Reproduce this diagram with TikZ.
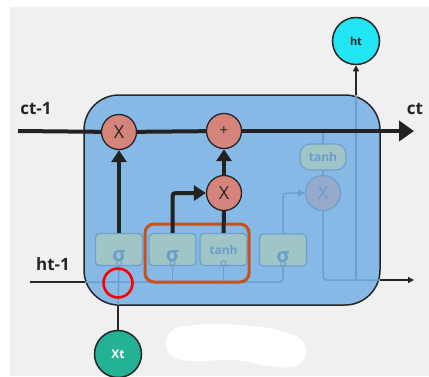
\documentclass[tikz,border=0pt]{standalone}
\usepackage{fontspec}
\setmainfont{Open Sans}
\usetikzlibrary{arrows.meta}
\definecolor{bggray}{HTML}{F0F0F0}
\definecolor{cellblue}{HTML}{86B9E5}
\definecolor{dark}{HTML}{262626}
\definecolor{fadeline}{HTML}{6E9FCB}
\definecolor{gatefill}{HTML}{A0C5C6}
\definecolor{gatetext}{HTML}{6B9DCC}
\definecolor{opfill}{HTML}{D5847B}
\definecolor{opfade}{HTML}{96AACC}
\definecolor{orangebox}{HTML}{C7521C}
\definecolor{htcyan}{HTML}{22E6F5}
\definecolor{xtteal}{HTML}{23B295}
\tikzset{
  cellbox/.style={draw=dark, fill=cellblue, line width=1.5pt, rounded corners=35pt, minimum width=296pt, minimum height=210pt, inner sep=0pt},
  gate/.style={draw=fadeline, fill=gatefill, line width=1.2pt, rounded corners=4pt, minimum width=47pt, minimum height=32pt, inner sep=0pt, text=gatetext, font=\bfseries},
  op/.style={circle, draw=dark, fill=opfill, line width=1.3pt, minimum size=35pt, inner sep=0pt, text=dark, font=\fontsize{18}{18}\selectfont},
  opfaded/.style={circle, draw=fadeline, fill=opfade, line width=1.2pt, minimum size=35pt, inner sep=0pt, text=gatetext, font=\fontsize{18}{18}\selectfont},
  fadeln/.style={draw=fadeline, line width=1.5pt},
  thinln/.style={draw=dark, line width=1.5pt},
  thk/.style={draw=dark!90!black, line width=4pt},
  bigtip/.style={-{Triangle[length=12pt,width=15pt]}},
  smalltip/.style={-{Triangle[length=6pt,width=6pt]}},
  lbl/.style={font=\bfseries\fontsize{17}{17}\selectfont, text=dark, inner sep=0pt},
}
\newcommand{\sig}{\raisebox{-12pt}[0pt][0pt]{\fontsize{20}{20}\selectfont σ}}
\begin{document}
\begin{tikzpicture}[x=1pt,y=-1pt]
\useasboundingbox (0,0) rectangle (429,376);
\fill[white] (0,0) rectangle (429,376);
\fill[bggray] (10,7) rectangle (429,376);

% white blob
\fill[white] plot[smooth cycle, tension=0.7] coordinates {(170,332) (195,325) (240,325) (285,332) (305,345) (300,364) (275,367) (235,360) (190,361) (168,352)};

% cell
\node[cellbox] (cell) at (232,200) {};

% coordinates
\coordinate (cin) at (18,131);
\coordinate (cout) at (414,131);
\coordinate (hin) at (30,282);
\coordinate (hentry) at (85,282);
\coordinate (hbend) at (283,282);
\coordinate (xtentry) at (118,305);
\coordinate (obend) at (323,280);
\coordinate (oexit) at (380,280);
\coordinate (oend) at (414,280);
\coordinate (htfoot) at (356,280);
\coordinate (htexit) at (356,95);
\coordinate (ctap) at (323,131);

% gates
\node[gate] (g1) at (119,249.5) {\sig};
\node[gate] (g2) at (172.5,249.5) {\sig};
\node[gate, font=\bfseries\fontsize{12}{12}\selectfont] (g3) at (223.5,249.5) {tanh};
\node[gate] (g4) at (283,250) {\sig};

% output part (faded)
\node[gate, rounded corners=10pt, minimum width=46pt, minimum height=26pt, font=\bfseries\fontsize{12}{12}\selectfont] (t2) at (323,157) {tanh};
\node[opfaded] (o) at (323,193) {X};

% faded connectors
\draw[fadeln, rounded corners=4pt] (hentry) -- (hbend) -- (g4.south);
\draw[fadeln] (g1.south) -- (xtentry);
\draw[fadeln] (g2.south) -- (g2.south |- hbend);
\draw[fadeln] (g3.south) -- (g3.south |- hbend);
\draw[fadeln] (ctap) -- (t2.north);
\draw[fadeln] (t2.south) -- (o.north);
\draw[fadeln, rounded corners=4pt] (o.south) -- (obend) -- (oexit);
\draw[fadeln] (htfoot) -- (htexit);
\draw[fadeln, rounded corners=3pt, -{Triangle[length=7pt,width=7pt]}] (g4.north) |- (o.west);
\foreach \g in {g1,g2,g3,g4}{
  \draw[fadeln, line width=1pt] ([yshift=3pt]\g.south) circle[radius=2.5pt];
}

% orange box
\draw[orangebox, line width=3pt, rounded corners=9pt] (145,224) rectangle (249,282);

% ops
\node[op] (f) at (119,132) {X};
\node[op, font=\fontsize{15}{15}\selectfont] (add) at (224,131) {+};
\node[op] (i) at (224,193) {X};

% cell state line
\draw[thk] (cin) -- (f);
\draw[thk] (f) -- (add);
\draw[thk, -{Triangle[length=15pt,width=20pt]}] (add) -- (cout);

% thick gate arrows
\draw[thk, bigtip] (g1.north) -- (f.south);
\draw[thk, bigtip, rounded corners=3pt] (g2.north) |- (i.west);
\draw[thk] (g3.north) -- (i.south);
\draw[thk, bigtip] (i.north) -- (add.south);

% input / output thin lines
\draw[thinln] (hin) -- (hentry);
\draw[thinln, smalltip] (oexit) -- (oend);

% ht and xt
\node[circle, draw=dark, fill=htcyan, line width=1.5pt, minimum size=47pt, inner sep=0pt, font=\bfseries\fontsize{11}{11}\selectfont, text=dark] (ht) at (356,41) {ht};
\draw[thinln, smalltip] (htexit) -- (ht.south);
\node[circle, draw=dark, fill=xtteal, line width=1.5pt, minimum size=47pt, inner sep=0pt, font=\bfseries\fontsize{12}{12}\selectfont, text=white] (xt) at (118,354) {Xt};
\draw[thinln] (xt.north) -- (xtentry);

% red marker
\node[circle, draw=red, line width=2.6pt, minimum size=29pt, inner sep=0pt] (mark) at (118,283) {};

% labels
\node[lbl] (lct1) at (36,109) {ct-1};
\node[lbl] (lct) at (415,109) {ct};
\node[lbl] (lht1) at (53,264) {ht-1};
\end{tikzpicture}
\end{document}
